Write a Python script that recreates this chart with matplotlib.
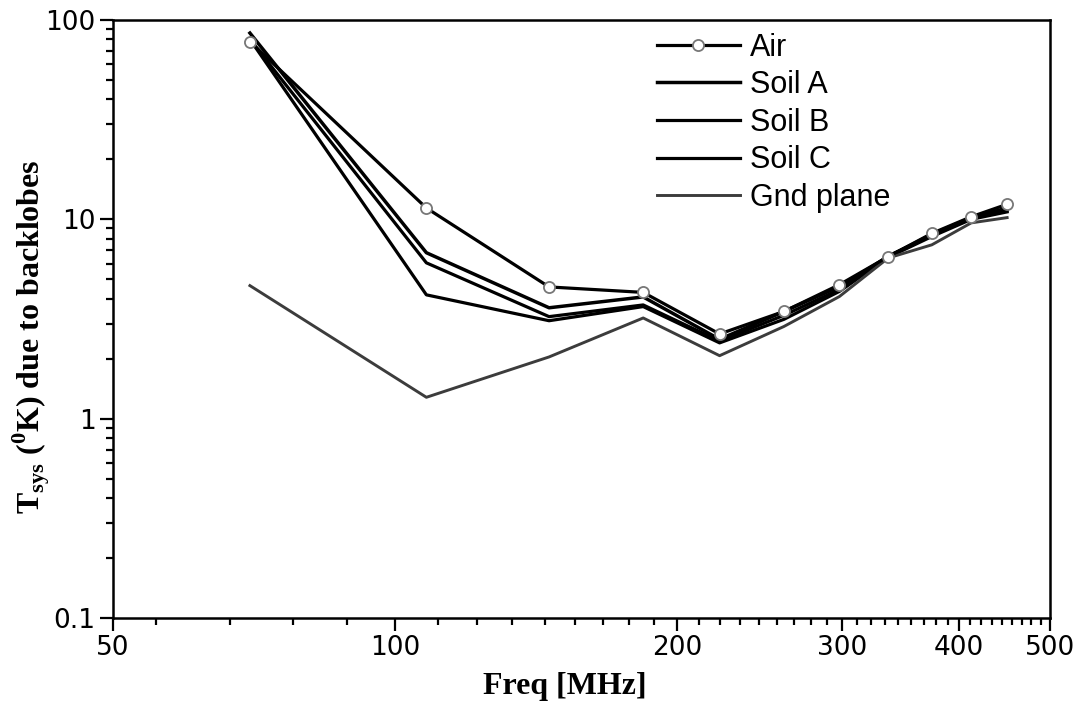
import numpy as np
import matplotlib
matplotlib.use("Agg")
import matplotlib.pyplot as plt
from matplotlib.ticker import FixedLocator, NullFormatter, LogLocator

plt.rcParams['mathtext.fontset'] = 'custom'
plt.rcParams['mathtext.rm'] = 'Liberation Serif:bold'
plt.rcParams['mathtext.bf'] = 'Liberation Serif:bold'

# frequency points (MHz)
freq = [70, 108, 146, 184, 222, 260, 298, 336, 374, 412, 450]

# system temperature contribution from backlobes (K)
air = [78, 11.4, 4.58, 4.3, 2.66, 3.45, 4.7, 6.5, 8.5, 10.3, 11.9]
soil_a = [86, 6.8, 3.6, 4.08, 2.5, 3.45, 4.6, 6.5, 8.4, 10.2, 11.4]
soil_b = [80, 6.05, 3.25, 3.72, 2.45, 3.3, 4.45, 6.55, 8.3, 10.1, 11.1]
soil_c = [80, 4.18, 3.1, 3.65, 2.4, 3.15, 4.35, 6.45, 8.2, 10.0, 10.9]
gnd_plane = [4.65, 1.28, 2.04, 3.2, 2.07, 2.9, 4.1, 6.4, 7.45, 9.6, 10.2]

x_ticks = [50, 100, 200, 300, 400, 500]

fig = plt.figure(figsize=(10.8, 7.01), dpi=100)
ax = fig.add_axes([113/1080, 83/701, 937/1080, 598/701])

ax.plot(freq, air, color='black', lw=2.3, marker='o', ms=8,
        mfc='white', mec='#777777', mew=1.3, label='Air', zorder=5)
ax.plot(freq, soil_a, color='black', lw=2.5, label='Soil A')
ax.plot(freq, soil_b, color='black', lw=2.3, label='Soil B')
ax.plot(freq, soil_c, color='black', lw=2.3, label='Soil C')
ax.plot(freq, gnd_plane, color='#3c3c3c', lw=2.1, label='Gnd plane')

ax.set_xscale('log')
ax.set_yscale('log')
ax.set_xlim(50, 500)
ax.set_ylim(0.1, 100)

ax.xaxis.set_major_locator(FixedLocator(x_ticks))
ax.set_xticklabels([str(t) for t in x_ticks])
minor_x = [v for v in np.arange(1, 46) * 100 / 9 if 50 < v < 500 and round(v) not in x_ticks]
ax.xaxis.set_minor_locator(FixedLocator(minor_x))
ax.xaxis.set_minor_formatter(NullFormatter())

ax.yaxis.set_major_locator(FixedLocator([0.1, 1, 10, 100]))
ax.set_yticklabels(['0.1', '1', '10', '100'])
ax.yaxis.set_minor_locator(LogLocator(base=10, subs=np.arange(2, 10)))
ax.yaxis.set_minor_formatter(NullFormatter())

for s in ax.spines.values():
    s.set_linewidth(1.8)
ax.tick_params(which='major', direction='out', length=9.5, width=1.6,
               labelsize=19, pad=3, top=False, right=False)
ax.tick_params(which='minor', direction='out', length=5, width=1.6,
               top=False, right=False)

ax.set_xlabel('Freq [MHz]', fontfamily='Liberation Serif', fontweight='bold',
              fontsize=23, va='top')
ax.xaxis.set_label_coords(0.482, -0.09)
ax.set_ylabel(r'T$_{\rm sys}$ ($^{\rm 0}$K) due to backlobes',
              fontfamily='Liberation Serif', fontweight='bold', fontsize=23,
              ha='center', va='center')
ax.yaxis.set_label_coords(-0.087, 0.47)

ax.legend(loc='upper left', bbox_to_anchor=(645/1080, 0.971),
          bbox_transform=fig.transFigure, frameon=False, borderaxespad=0,
          handlelength=2.7, handletextpad=0.33, labelspacing=0.25,
          prop={'family': 'Liberation Sans', 'size': 22})

fig.savefig('out.png', dpi=100)
